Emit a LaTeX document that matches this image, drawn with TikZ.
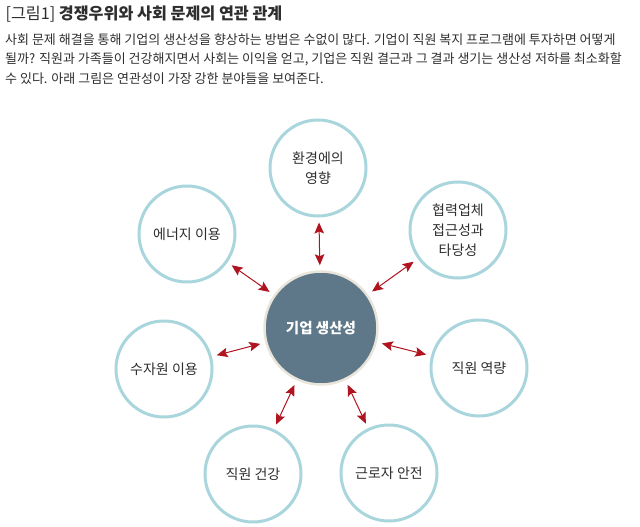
\documentclass[tikz,border=0pt]{standalone}
\usepackage{fontspec}
\setmainfont{Noto Sans CJK KR}
\usepackage{xcolor}
\usetikzlibrary{arrows.meta}

\definecolor{ringblue}{HTML}{A9D5DC}
\definecolor{hubfill}{HTML}{5E7889}
\definecolor{hubring}{HTML}{E9E5DB}
\definecolor{linkred}{HTML}{B0141F}
\definecolor{txtgray}{HTML}{2E2E2E}

\begin{document}
\begin{tikzpicture}[
    x=1pt, y=-1pt,
    hub/.style={circle, draw=hubring, line width=2.5pt, fill=hubfill, minimum size=113pt, inner sep=0pt, align=center, text=white, font=\fontsize{14.5}{17}\selectfont\bfseries},
    area/.style={circle, draw=ringblue, line width=3pt, fill=white, minimum size=96pt, inner sep=0pt, align=center, text=txtgray, font=\fontsize{14}{20}\selectfont},
    link/.style={{Stealth[length=11pt, width=9.5pt, inset=2pt]}-{Stealth[length=11pt, width=9.5pt, inset=2pt]}, draw=linkred, line width=1pt, shorten <=5pt, shorten >=5pt}
]
\useasboundingbox (0,0) rectangle (640,527);

% title and text
\node[anchor=west, text=txtgray, font=\fontsize{16.2}{19}\selectfont] (title) at (2,14) {[그림1] \textbf{경쟁우위와 사회 문제의 연관 관계}};
\node[anchor=north west, align=left, text=txtgray, inner sep=0pt, font=\fontsize{13}{19.5}\selectfont] (intro) at (5,33)
  {사회 문제 해결을 통해 기업의 생산성을 향상하는 방법은 수없이 많다. 기업이 직원 복지 프로그램에 투자하면 어떻게\\
   될까? 직원과 가족들이 건강해지면서 사회는 이익을 얻고, 기업은 직원 결근과 그 결과 생기는 생산성 저하를 최소화할\\
   수 있다. 아래 그림은 연관성이 가장 강한 분야들을 보여준다.};

% hub
\node[hub] (prod) at (321,328) {기업 생산성};

% areas around the hub
\node[area] (env) at (318,168) {환경에의\\영향};
\node[area] (supp) at (458,230) {협력업체\\접근성과\\타당성};
\node[area] (skill) at (479,368) {직원 역량};
\node[area] (safety) at (389,473) {근로자 안전};
\node[area] (health) at (253,474) {직원 건강};
\node[area] (water) at (164,369) {수자원 이용};
\node[area] (energy) at (187,234) {에너지 이용};

\draw[link] (prod) -- (env);
\draw[link] (prod) -- (supp);
\draw[link] (prod) -- (skill);
\draw[link] (prod) -- (safety);
\draw[link] (prod) -- (health);
\draw[link] (prod) -- (water);
\draw[link] (prod) -- (energy);

\end{tikzpicture}
\end{document}
